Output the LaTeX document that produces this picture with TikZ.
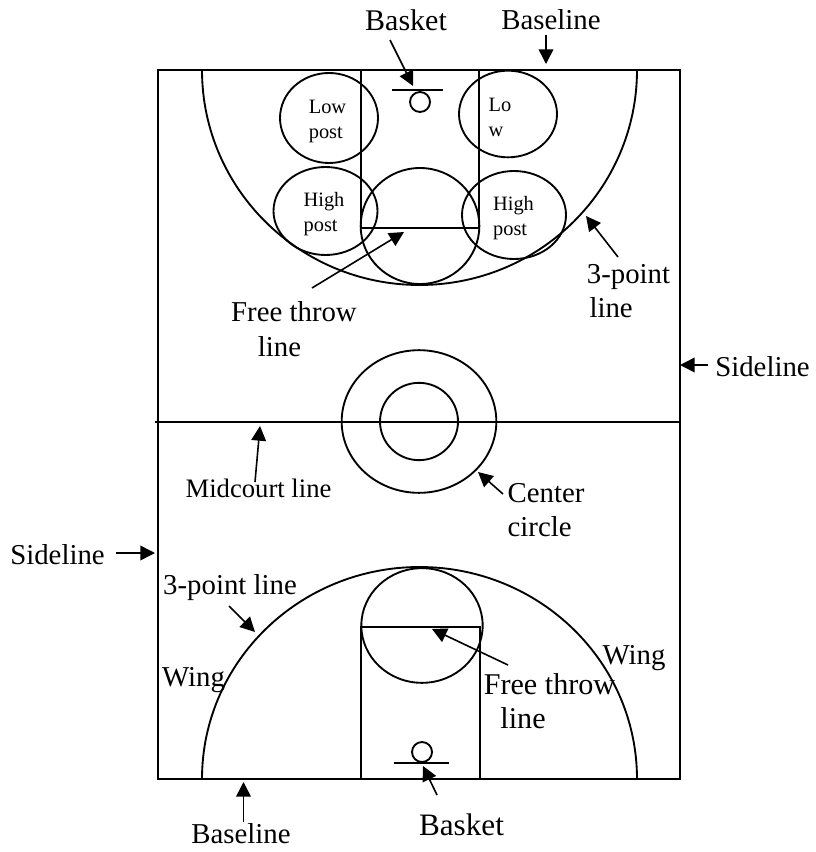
\documentclass[tikz,border=0pt]{standalone}
\usepackage{fontspec}
\setmainfont{Liberation Serif}
\usetikzlibrary{arrows.meta,shapes.geometric}
\tikzset{
    courtline/.style={line width=1.4pt},
    courtspot/.style={draw, ellipse, line width=1.4pt, inner sep=0pt},
    posttext/.style={inner sep=0pt, align=left, font=\fontsize{15.3}{18.75}\selectfont},
    courtlabel/.style={inner sep=0pt, align=left, font=\fontsize{21.6}{25.8}\selectfont},
    courtarrow/.style={-{Triangle[length=11pt,width=11pt]}, line width=1.2pt}
}
\begin{document}
\begin{tikzpicture}[x=0.75pt, y=-0.75pt]
\useasboundingbox (0,0) rectangle (816,852);
% court outline
\draw[courtline] (158,70) rectangle (680,779);
\draw[courtline] (155,422) -- (680,422);
% upper half
\draw[courtline] (202,70) arc[start angle=180, end angle=0, x radius=217.5, y radius=215];
\draw[courtline] (361,70) -- (361,228) -- (479,228) -- (479,70);
\draw[courtline] (392,90) -- (443,90);
\node[courtspot, minimum width=15pt, minimum height=15pt] (hooptop) at (420,102) {};
\node[courtspot, minimum width=89pt, minimum height=87pt] (keytop) at (420,226) {};
\node[courtspot, minimum width=73.5pt, minimum height=67.5pt] (lowleft) at (329,118) {};
\node[courtspot, minimum width=73.5pt, minimum height=65pt] (lowright) at (508,114) {};
\node[courtspot, minimum width=78pt, minimum height=66pt] (highleft) at (325.5,211) {};
\node[courtspot, minimum width=78pt, minimum height=66pt] (highright) at (514,215) {};
\node[posttext] (lowlefttext) at (327.5,121) {Low\\post};
\node[posttext] (lowrighttext) at (500,117.5) {Lo\\w};
\node[posttext] (highlefttext) at (324,214) {High\\post};
\node[posttext] (highrighttext) at (513.5,218) {High\\post};
% centre circle
\node[courtspot, minimum width=116pt, minimum height=107pt] (centerouter) at (419,421.5) {};
\node[courtspot, minimum width=58.5pt, minimum height=58pt] (centerinner) at (419,421.5) {};
% lower half
\draw[courtline] (202,779) arc[start angle=180, end angle=360, x radius=217.5, y radius=212];
\draw[courtline] (361,779) -- (361,627) -- (480,627) -- (480,779);
\draw[courtline] (394,763) -- (449,763);
\node[courtspot, minimum width=15pt, minimum height=15pt] (hoopbottom) at (422,752) {};
\node[courtspot, minimum width=91pt, minimum height=86pt] (keybottom) at (422,625.5) {};
% labels
\node[courtlabel, font=\fontsize{22.5}{25.5}\selectfont] (baskettop) at (406,20) {Basket};
\node[courtlabel] (baselinetop) at (551,20) {Baseline};
\node[courtlabel] (freethrowtop) at (294,329) {Free throw\\\hspace*{20pt}line};
\node[courtlabel] (threepointtop) at (628.5,291) {3-point\\\hspace*{2pt}line};
\node[courtlabel] (sidelineright) at (762.5,367) {Sideline};
\node[courtlabel, font=\fontsize{20}{25.5}\selectfont] (midcourtlabel) at (258.5,488) {Midcourt line};
\node[courtlabel] (centerlabel) at (546,510) {Center\\circle};
\node[courtlabel] (sidelineleft) at (57.5,555) {Sideline};
\node[courtlabel] (threepointbottom) at (230,588) {3-point line};
\node[courtlabel] (wingleft) at (193.5,680) {Wing};
\node[courtlabel] (wingright) at (634,658) {Wing};
\node[courtlabel, font=\fontsize{22.6}{25.8}\selectfont] (freethrowbottom) at (549.5,701) {Free throw\\\hspace*{12.5pt}line};
\node[courtlabel, font=\fontsize{23.4}{25.5}\selectfont] (basketbottom) at (461.5,825) {Basket};
\node[courtlabel] (baselinebottom) at (241,834) {Baseline};
% arrow ends
\coordinate (a1) at (390,40);   \coordinate (b1) at (413,86);
\coordinate (a2) at (546,35);   \coordinate (b2) at (546,64);
\coordinate (a3) at (312,288);  \coordinate (b3) at (404,232);
\coordinate (a4) at (618,257);  \coordinate (b4) at (586,216);
\coordinate (a5) at (708,365);  \coordinate (b5) at (680,365);
\coordinate (a6) at (255,482);  \coordinate (b6) at (260,426);
\coordinate (a7) at (503,494);  \coordinate (b7) at (478,472);
\coordinate (a8) at (116,553);  \coordinate (b8) at (155,553);
\coordinate (a9) at (229,606);  \coordinate (b9) at (255,632);
\coordinate (a10) at (508,665); \coordinate (b10) at (432,629);
\coordinate (a11) at (437,795); \coordinate (b11) at (423,766);
\coordinate (a12) at (243.5,822); \coordinate (b12) at (243.5,782);
\draw[courtarrow] (a1) -- (b1);
\draw[courtarrow] (a2) -- (b2);
\draw[courtarrow] (a3) -- (b3);
\draw[courtarrow] (a4) -- (b4);
\draw[courtarrow] (a5) -- (b5);
\draw[courtarrow] (a6) -- (b6);
\draw[courtarrow] (a7) -- (b7);
\draw[courtarrow] (a8) -- (b8);
\draw[courtarrow] (a9) -- (b9);
\draw[courtarrow] (a10) -- (b10);
\draw[courtarrow] (a11) -- (b11);
\draw[courtarrow] (a12) -- (b12);
\end{tikzpicture}
\end{document}
